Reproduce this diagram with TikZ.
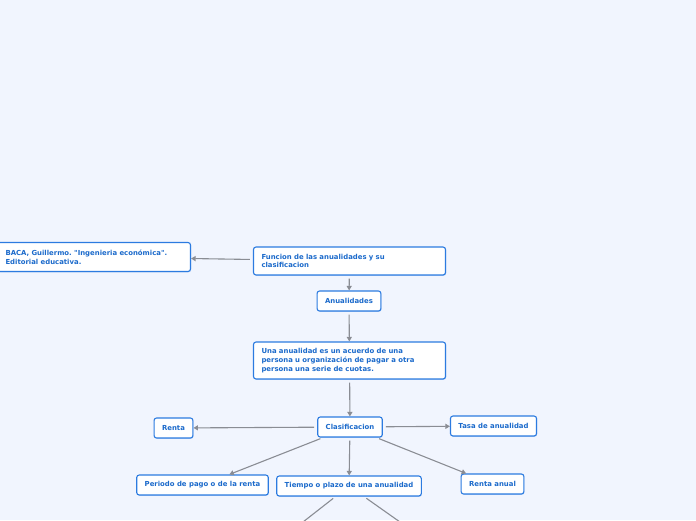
\documentclass[tikz,border=0pt]{standalone}
\usepackage{fontspec}
\setmainfont{DejaVu Sans}[Ligatures=TeXOff]
\usepackage{xcolor}
\usetikzlibrary{shapes,arrows.meta,positioning,calc,shadows}
\definecolor{bgblue}{HTML}{F1F5FE}
\definecolor{boxline}{HTML}{2C7BE0}
\definecolor{boxtext}{HTML}{1B6ACB}
\definecolor{linkgray}{HTML}{8A8D94}
\frenchspacing

\begin{document}
\begin{tikzpicture}[
    x=1pt, y=-1pt,
    topic/.style={rectangle, draw=boxline, fill=white, line width=1.1pt, rounded corners=2.5pt, align=center, inner xsep=8pt, inner ysep=0pt, minimum height=20pt, font=\fontsize{6.9}{8.6}\selectfont\bfseries, text=boxtext, drop shadow={shadow xshift=0.6pt, shadow yshift=-0.8pt, opacity=0.25, fill=boxline}},
    wide/.style={topic, align=left, text width=176pt, minimum width=191pt},
    link/.style={-{Triangle[length=4.5pt, width=5pt]}, line width=1.1pt, draw=linkgray, shorten <=3pt},
    tail/.style={line width=1.1pt, draw=linkgray, shorten <=3pt}
]
    \fill [bgblue] (0,0) rectangle (696,520);
    \useasboundingbox (0,0) rectangle (696,520);

    \node [wide, minimum height=28pt] (n1) at (349.5,261) {Funcion de las anualidades y su\\clasificacion};
    \node [wide, minimum height=29pt, minimum width=193pt, text width=177pt] (n0) at (94,257) {BACA, Guillermo. "Ingenieria económica".\\Editorial educativa.};
    \node [topic] (n2) at (349,301) {Anualidades};
    \node [wide, minimum height=37pt] (n3) at (349.5,360.5) {Una anualidad es un acuerdo de una\\persona u organización de pagar a otra\\persona una serie de cuotas.};
    \node [topic] (n4) at (350,427) {Clasificacion};
    \node [topic] (n5) at (173.5,428) {Renta};
    \node [topic] (n6) at (493.5,426) {Tasa de anualidad};
    \node [topic] (n7) at (202.5,485) {Periodo de pago o de la renta};
    \node [topic] (n8) at (349,486) {Tiempo o plazo de una anualidad};
    \node [topic] (n9) at (492.5,484) {Renta anual};
    \coordinate (c1) at (303,522);
    \coordinate (c2) at (400,522);

    \draw [link] (n1) -- (n0);
    \draw [link] (n1) -- (n2);
    \draw [link] (n2) -- (n3);
    \draw [link] (n3) -- (n4);
    \draw [link] (n4) -- (n5);
    \draw [link] (n4) -- (n6);
    \draw [link] (n4) -- (n7);
    \draw [link] (n4) -- (n8);
    \draw [link] (n4) -- (n9);
    \draw [tail] (n8) -- (c1);
    \draw [tail] (n8) -- (c2);
\end{tikzpicture}
\end{document}
